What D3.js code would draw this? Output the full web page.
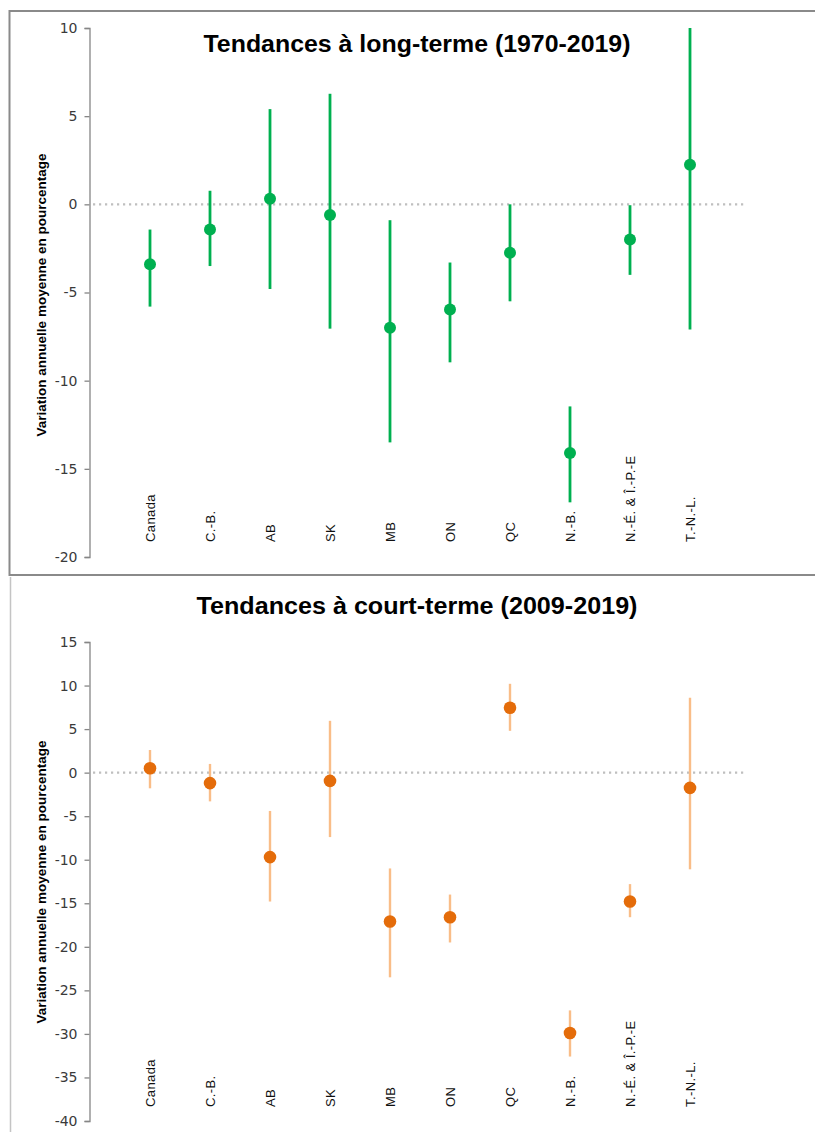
<!DOCTYPE html>
<html><head><meta charset="utf-8">
<script src="https://cdn.jsdelivr.net/npm/d3@7"></script>
<style>body{margin:0;background:#fff}svg{display:block}</style>
</head><body>
<svg id="c" width="815" height="1132"></svg>
<script>
const categories = ["Canada","C.-B.","AB","SK","MB","ON","QC","N.-B.","N.-É. & Î.-P.-E","T.-N.-L."];
const longValues = [-3.4,-1.43,0.32,-0.6,-7.0,-5.96,-2.74,-14.1,-2.0,2.25];
const longUpper  = [-1.43,0.77,5.4,6.27,-0.9,-3.3,0.0,-11.46,-0.05,10.0];
const longLower  = [-5.8,-3.5,-4.8,-7.05,-13.5,-8.96,-5.5,-16.9,-4.0,-7.1];
const shortValues = [0.5,-1.2,-9.7,-0.95,-17.1,-16.6,7.45,-29.9,-14.8,-1.75];
const shortUpper  = [2.6,1.0,-4.4,5.95,-11.0,-14.0,10.2,-27.3,-12.8,8.6];
const shortLower  = [-1.8,-3.3,-14.8,-7.4,-23.5,-19.5,4.8,-32.6,-16.6,-11.1];
const longTicks = [10,5,0,-5,-10,-15,-20];
const shortTicks = [15,10,5,0,-5,-10,-15,-20,-25,-30,-35,-40];
const yTitle = "Variation annuelle moyenne en pourcentage";

const svg = d3.select("#c");

svg.append("rect").attr("x",9.5).attr("y",11).attr("width",820).attr("height",564)
  .attr("fill","none").attr("stroke","#8a8a8a").attr("stroke-width",2);
svg.append("line").attr("x1",10.5).attr("x2",10.5).attr("y1",577).attr("y2",1132)
  .attr("stroke","#c4c4c4").attr("stroke-width",1.5);

const x = d3.scaleLinear().domain([0,11]).range([90,750]);

function panel(o){
  const g = svg.append("g");
  const y = d3.scaleLinear().domain(o.domain).range(o.range);
  const ax = g.append("g").attr("transform","translate(89.5,0)")
    .call(d3.axisLeft(y).tickValues(o.ticks).tickSize(5).tickPadding(7).tickFormat(d => String(d)));
  ax.select(".domain").attr("stroke","#868686").attr("stroke-width",1.3);
  ax.selectAll(".tick line").attr("stroke","#868686").attr("stroke-width",1.3);
  ax.selectAll("text").attr("fill","#3a3a3a").style("font-family","DejaVu Sans").style("font-size","14px");
  g.append("line").attr("x1",x(0)+3).attr("x2",745).attr("y1",y(0)).attr("y2",y(0))
    .attr("stroke","#bfbfbf").attr("stroke-width",2.2).attr("stroke-dasharray","2.2,3.8");
  g.selectAll(".w").data(categories).join("line")
    .attr("x1",(d,i)=>x(i+1)).attr("x2",(d,i)=>x(i+1))
    .attr("y1",(d,i)=>y(o.upper[i])).attr("y2",(d,i)=>y(o.lower[i]))
    .attr("stroke",o.lineColor).attr("stroke-width",o.lineWidth);
  g.selectAll(".p").data(categories).join("circle")
    .attr("cx",(d,i)=>x(i+1)).attr("cy",(d,i)=>y(o.values[i])).attr("r",o.r)
    .attr("fill",o.dotColor);
  g.selectAll(".cl").data(categories).join("text")
    .attr("transform",(d,i)=>`translate(${x(i+1)+4.5},${o.labelY}) rotate(-90)`)
    .attr("text-anchor","start")
    .style("font-family","Liberation Sans, Arial").style("font-size","13px").style("letter-spacing","0.4px")
    .attr("fill","#111")
    .text(d=>d);
  g.append("text").attr("x",417).attr("y",o.titleY).attr("text-anchor","middle")
    .attr("textLength",o.titleLen).attr("lengthAdjust","spacingAndGlyphs")
    .style("font-family","Liberation Sans, Arial").style("font-weight","bold").style("font-size","23px")
    .attr("fill","#000").text(o.title);
  g.append("text").attr("transform",`translate(46,${o.yTitleY}) rotate(-90)`)
    .attr("text-anchor","middle")
    .style("font-family","Liberation Sans, Arial").style("font-weight","bold").style("font-size","13.5px")
    .attr("fill","#000").text(yTitle);
}

panel({domain:[-20,10], range:[557,28], ticks:longTicks, values:longValues, upper:longUpper, lower:longLower,
  lineColor:"#00b050", dotColor:"#00b050", lineWidth:2.8, r:6, labelY:542, titleY:52, titleLen:427,
  title:"Tendances à long-terme (1970-2019)", yTitleY:295});
panel({domain:[-40,15], range:[1121,642], ticks:shortTicks, values:shortValues, upper:shortUpper, lower:shortLower,
  lineColor:"#f9bd88", dotColor:"#e46c0a", lineWidth:2.4, r:6.3, labelY:1107, titleY:614, titleLen:441,
  title:"Tendances à court-terme (2009-2019)", yTitleY:882});
</script>
</body></html>
